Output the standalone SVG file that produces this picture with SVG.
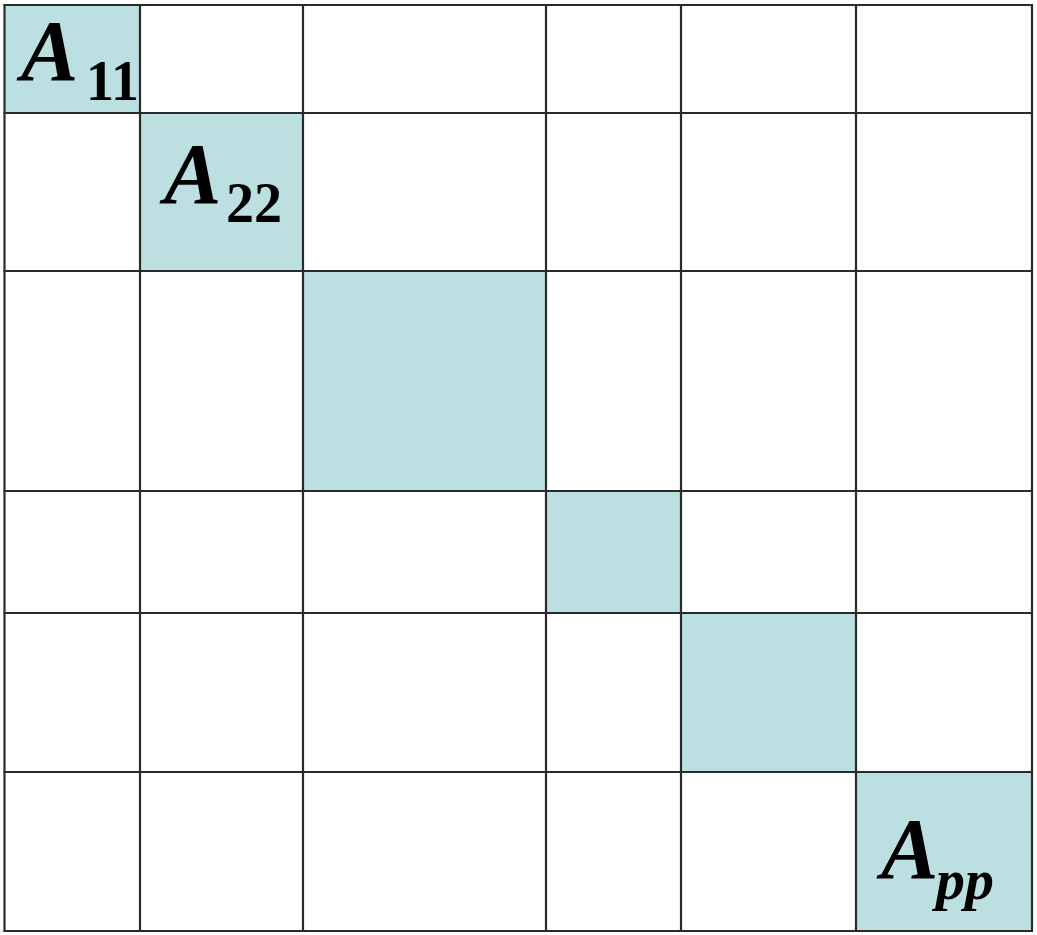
<svg xmlns="http://www.w3.org/2000/svg" width="1037" height="935" viewBox="0 0 1037 935">
<style>
.blk{fill:#bcdfe2;stroke:none}
.grid line{stroke:#2a2a2a;stroke-width:2.2}
.m{font-family:"Liberation Serif","Times New Roman",serif;font-weight:bold;font-style:italic;font-size:86px;fill:#000}
.s{font-size:56px;font-style:normal}
.si{font-size:58px;font-style:italic}
</style>
<rect width="1037" height="935" fill="#fff"/>
<g id="blocks">
<rect id="b1" class="blk" x="4.5" y="5" width="135.5" height="108"/>
<rect id="b2" class="blk" x="140" y="113" width="163" height="158"/>
<rect id="b3" class="blk" x="303" y="271" width="243" height="220"/>
<rect id="b4" class="blk" x="546" y="491" width="135" height="122"/>
<rect id="b5" class="blk" x="681" y="613" width="175" height="159"/>
<rect id="b6" class="blk" x="856" y="772" width="176" height="159"/>
</g>
<g id="connectors" class="grid">
<line x1="4.5" y1="4" x2="4.5" y2="932"/>
<line x1="140" y1="4" x2="140" y2="932"/>
<line x1="303" y1="4" x2="303" y2="932"/>
<line x1="546" y1="4" x2="546" y2="932"/>
<line x1="681" y1="4" x2="681" y2="932"/>
<line x1="856" y1="4" x2="856" y2="932"/>
<line x1="1032" y1="4" x2="1032" y2="932"/>
<line x1="3.5" y1="5" x2="1033" y2="5"/>
<line x1="3.5" y1="113" x2="1033" y2="113"/>
<line x1="3.5" y1="271" x2="1033" y2="271"/>
<line x1="3.5" y1="491" x2="1033" y2="491"/>
<line x1="3.5" y1="613" x2="1033" y2="613"/>
<line x1="3.5" y1="772" x2="1033" y2="772"/>
<line x1="3.5" y1="931" x2="1033" y2="931"/>
</g>
<g id="label-a11"><text class="m" x="21" y="80">A<tspan class="s" x="86" y="100">11</tspan></text></g>
<g id="label-a22"><text class="m" x="164" y="203">A<tspan class="s" x="226" y="222">22</tspan></text></g>
<g id="label-app"><text class="m" x="881" y="878">A<tspan class="si" x="936" y="899">pp</tspan></text></g>
</svg>
